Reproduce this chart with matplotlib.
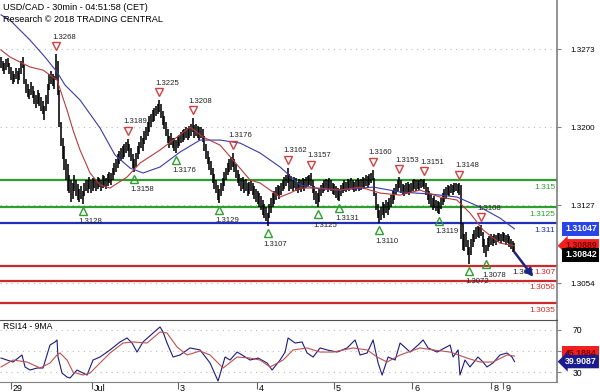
import numpy as np
import matplotlib
matplotlib.use('Agg')
import matplotlib.pyplot as plt
from matplotlib.transforms import offset_copy, blended_transform_factory

plt.rcParams['font.family'] = ['Liberation Sans', 'DejaVu Sans']

# 30 min bars, values in pips above 1.3000
bar_low = [255, 252, 250, 253, 256, 250, 244, 240, 242, 245, 240, 244, 250,
           255, 240, 232, 228, 226, 230, 227, 222, 218, 222, 220, 215, 212, 207,
           215, 222, 235, 240, 238, 236, 244, 230, 200, 182,
           170, 160, 150, 140, 138, 130, 133, 140, 135, 132, 130, 133, 128,
           135, 140, 138, 142, 138, 140, 143, 140, 142, 144, 140, 143, 145, 142, 145, 148, 146, 150, 155,
           158, 162, 165, 168, 170, 172, 176, 178, 172, 168, 162, 158,
           163, 170, 175, 180, 178, 184, 188, 192, 195, 200, 205, 206, 210, 212, 214,
           208, 202, 198, 192, 185, 180, 183, 180, 178, 176,
           180, 182, 185, 186, 188, 190, 188, 190, 192, 195, 190, 192, 190, 188, 190, 186,
           178, 170, 165, 160, 155, 148, 142, 138, 132, 129,
           135, 140, 145, 150, 155, 158, 160, 163,
           158, 152, 148, 145, 140, 142, 138, 140, 135, 137, 140, 136, 133, 130, 128, 125, 122, 118, 115, 112, 107,
           115, 120, 125, 128, 132, 135, 133, 136, 140, 142, 145, 148,
           140, 142, 140, 143, 140, 138, 141, 139, 142, 140, 143, 145, 146, 145,
           138, 132, 128, 125, 130, 135, 138, 140, 142, 139, 141, 140, 137, 136, 134, 132, 131,
           135, 138, 140, 139, 141, 140, 142, 141, 139, 140, 142, 140, 141, 143, 142, 145, 144, 146, 148, 150,
           135, 122, 115, 110, 113, 118, 115, 120, 118, 122, 125, 128, 132, 136, 140, 143,
           138, 136, 135, 137, 139, 136, 138, 140, 142, 140, 142, 141, 143, 144, 142,
           136, 132, 128, 125, 122, 124, 121, 120, 119, 123, 127, 130, 133, 136, 135, 138, 136, 139, 140, 138, 136,
           95, 85, 84, 88, 80, 72, 80, 88, 92, 95, 97, 96, 98,
           88, 82, 78, 84, 88, 90, 89, 91, 90, 92, 93, 91, 93, 92, 90, 91, 88, 86, 83, 83]
bar_high = [266, 262, 260, 264, 265, 260, 256, 252, 250, 255, 252, 255, 262,
            266, 258, 245, 240, 236, 242, 238, 234, 230, 235, 232, 228, 224, 220,
            230, 240, 250, 252, 250, 248, 268, 262, 235, 205,
            190, 182, 170, 165, 155, 150, 148, 155, 150, 147, 142, 145, 140,
            148, 150, 150, 153, 150, 152, 151, 150, 153, 152, 150, 155, 154, 152, 156, 158, 157, 162, 166,
            170, 175, 178, 180, 182, 184, 186, 189, 184, 180, 175, 170,
            176, 182, 186, 192, 190, 196, 200, 205, 210, 212, 216, 218, 220, 222, 225,
            222, 215, 210, 205, 198, 192, 194, 190, 190, 188,
            191, 193, 195, 197, 198, 200, 199, 201, 203, 208, 202, 203, 201, 200, 200, 198,
            192, 184, 178, 172, 168, 162, 156, 150, 146, 142,
            148, 152, 158, 162, 166, 170, 172, 176,
            170, 165, 160, 156, 152, 153, 150, 151, 148, 149, 150, 148, 145, 142, 140, 138, 135, 132, 128, 125, 120,
            128, 134, 138, 140, 144, 146, 145, 148, 150, 153, 155, 162,
            156, 154, 150, 153, 152, 149, 151, 150, 152, 151, 153, 154, 155, 157,
            150, 145, 140, 138, 142, 146, 148, 150, 151, 150, 152, 150, 148, 147, 145, 143, 142,
            146, 148, 150, 149, 151, 150, 152, 150, 149, 150, 152, 150, 151, 153, 152, 155, 154, 156, 157, 160,
            152, 138, 128, 122, 125, 130, 128, 132, 130, 134, 136, 140, 143, 147, 150, 153,
            150, 147, 146, 148, 149, 147, 148, 150, 151, 150, 150, 150, 151, 150, 151,
            148, 144, 140, 137, 134, 135, 132, 131, 130, 134, 138, 142, 144, 146, 145, 147, 146, 148, 148, 147, 148,
            146, 110, 100, 102, 94, 88, 95, 100, 104, 106, 107, 106, 108,
            102, 95, 90, 96, 98, 100, 98, 100, 99, 101, 101, 100, 102, 101, 99, 100, 98, 95, 93, 91]

# moving averages (bar index, pips)
ma_slow_idx = [0, 5.4, 17.4, 26.4, 33.6, 38.4, 47.4, 59.4, 68.4, 77.4, 85.2, 95.4, 107.4, 119.4, 131.4,
               143.4, 155.4, 167.4, 179.4, 191.4, 203.4, 223.2, 239.4, 257.4, 273.5, 287.3, 299.3, 308]
ma_slow_val = [305, 300.1, 281.4, 265.5, 251.5, 239.3, 225.3, 199.1, 173.8, 161.6, 157, 162.6, 176.6, 187.8, 187.8,
               185, 175.7, 162.6, 145.7, 142, 141, 143.8, 139.2, 137.3, 134.5, 125.1, 114.8, 104.7]
ma_fast_idx = [0, 5.4, 17.4, 25.2, 33.6, 39.6, 43.2, 47.4, 53.4, 59.4, 65.4, 75.6, 83.4, 95.4, 105.6, 113.4,
               121.2, 131.4, 139.2, 149.4, 155.4, 167.4, 173.4, 179.4, 191.4, 203.4, 215.4, 227.4, 239.4,
               251.3, 263.3, 273.5, 281.3, 289.2, 299.3, 308]
ma_fast_val = [272.1, 265.5, 256.2, 253.3, 244, 215.9, 197.2, 178.5, 157, 145.7, 142.9, 153.2, 166.3, 178.5,
               190.6, 200, 190.6, 183.1, 169.1, 150.4, 147.6, 134.5, 138.2, 142.9, 142.9, 141, 143.8, 138.2,
               136.3, 141, 134.5, 131.7, 119.5, 103.6, 91.4, 88.9]

# RSI14 and its 9MA (bar index, value)
rsi_idx = [0, 3.6, 7.2, 12.6, 14.4, 17.4, 21.6, 25.2, 29.4, 32.4, 33.6, 34.2, 36.6, 39.6, 41.4, 45.6, 51.6,
           55.2, 59.4, 65.4, 71.4, 75.6, 78.6, 81.6, 85.2, 91.2, 95.4, 97.2, 99.6, 103.2, 107.4, 113.4, 119.4,
           125.4, 130.2, 134.4, 137.4, 141.6, 144.6, 149.4, 154.2, 159.6, 162.6, 167.4, 170.4, 172.2, 176.4,
           180.6, 183.6, 187.2, 191.4, 195.6, 201.6, 207.6, 212.4, 215.4, 219.6, 223.2, 226.2, 228.6, 232.2,
           236.4, 239.4, 245.4, 250.2, 253.2, 256.2, 261.6, 269.4, 271.2, 274.2, 275.3, 278.3, 281.3, 286.1,
           289.1, 291.5, 295.1, 299.3, 303.5, 306.5, 308]
rsi_val = [43.3, 41.4, 39.5, 46.2, 34.8, 31.9, 33.8, 33.8, 55.7, 58.6, 60.5, 44.3, 29, 25.2, 24.3, 31.9, 27.1,
           41.4, 44.3, 51, 58.6, 62.4, 57.6, 49, 58.6, 67.1, 72.9, 68.1, 57.6, 44.3, 46.2, 52.9, 51,
           38.6, 21.4, 44.3, 41.4, 49, 46.2, 41.4, 43.3, 38.6, 31.9, 41.4, 49, 62.4, 57.6,
           58.6, 48.1, 44.3, 52.9, 51, 49, 52.9, 60.5, 46.2, 48.1, 60.5, 38.6, 27.1, 44.3,
           41.4, 57.6, 49, 55.7, 60.5, 52.9, 49, 55.7, 44.3, 51, 27.1, 41.4, 34.8, 44.3,
           39.5, 34.8, 38.6, 46.2, 48.1, 44.3, 39.9087]
rsi_ma_idx = [0, 7.2, 15.6, 23.4, 29.4, 33.6, 35.4, 39.6, 43.2, 49.2, 53.4, 59.4, 65.4, 73.2, 79.2, 87.6, 95.4,
              99.6, 105.6, 111.6, 119.4, 125.4, 133.2, 141.6, 149.4, 155.4, 161.4, 169.2, 175.2, 183.6, 191.4,
              199.2, 211.2, 219.6, 225.6, 231.6, 239.4, 251.3, 259.2, 269.4, 279.5, 287.3, 295.1, 303.5, 308]
rsi_ma_val = [34.8, 41.4, 39.5, 33.8, 38.6, 46.2, 48.1, 41.4, 30, 27.1, 29, 38.6, 48.1, 57.6, 58.6, 57.6, 68.1,
              67.1, 53.8, 46.2, 50, 46.2, 33.8, 44.3, 43.3, 41.4, 34.8, 41.4, 51, 52.9, 49,
              49, 52.9, 51, 44.3, 39.5, 46.2, 52.9, 51, 49, 43.3, 39.5, 39.5, 46.2, 45.1884]

# pivots
peak_idx = [33, 76, 95, 115, 139, 172, 186, 223, 239, 254, 275, 288]
peak_val = [1.3268, 1.3189, 1.3225, 1.3208, 1.3176, 1.3162, 1.3157, 1.3160, 1.3153, 1.3151, 1.3148, 1.3108]
trough_idx = [49, 80, 105, 131, 160, 190, 203, 227, 263, 281, 291]
trough_val = [1.3128, 1.3158, 1.3176, 1.3129, 1.3107, 1.3125, 1.3131, 1.3110, 1.3119, 1.3072, 1.3078]

# support / resistance levels
level_val = [1.3150, 1.3125, 1.3110, 1.3070, 1.3056, 1.3035]
level_txt = ['1.315', '1.3125', '1.311', '1.307', '1.3056', '1.3035']
level_col = ['#2e9e2e', '#2e9e2e', '#1f2fb8', '#cc2a2a', '#cc2a2a', '#cc2a2a']

price_ticks = [1.3054, 1.3127, 1.3200, 1.3273]
day_idx = [6.0, 54.6, 106.2, 153.6, 199.8, 246.6, 294.0, 301.2]
day_lbl = ['29', 'Jul', '3', '4', '5', '6', '8', '9']

last_close = 1.30842
target_lbl = '1.307'
arrow_from = (307, 1.30849)
arrow_to = (320.3, 1.30577)

x = np.arange(len(bar_low))
lo = 1.3 + np.array(bar_low) / 10000.0
hi = 1.3 + np.array(bar_high) / 10000.0

fig = plt.figure(figsize=(6, 3.92), dpi=100)
ax = fig.add_axes([0, 1 - 320 / 392., 557 / 600., 320 / 392.])
ax2 = fig.add_axes([0, 10 / 392., 557 / 600., 62 / 392.])

ax.set_xlim(-0.6, 333.5)
ax.set_ylim(1.30194, 1.33189)
ax2.set_xlim(-0.6, 333.5)
ax2.set_ylim(20.5, 79.5)

dots = (0, (1, 4))
ax.grid(axis='y', color='#bbbbbb', linestyle=dots, lw=0.8)
ax2.grid(axis='y', color='#bbbbbb', linestyle=dots, lw=0.8)

for v, c in zip(level_val, level_col):
    ax.axhline(v, color=c, lw=1.6, zorder=2)

ax.vlines(x, lo, hi, color='black', lw=1.15, zorder=3)
ax.plot(ma_slow_idx, 1.3 + np.array(ma_slow_val) / 10000.0, color='#3a3aa8', lw=0.8, zorder=4)
ax.plot(ma_fast_idx, 1.3 + np.array(ma_fast_val) / 10000.0, color='#b83a3a', lw=0.8, zorder=4)

up = offset_copy(ax.transData, fig=fig, x=0, y=8, units='dots')
dn = offset_copy(ax.transData, fig=fig, x=0, y=-7, units='dots')
ax.plot(peak_idx, peak_val, 'v', transform=up, ms=6, mfc='none', mec='#d04040', mew=1, zorder=5)
ax.plot(trough_idx, trough_val, '^', transform=dn, ms=6, mfc='none', mec='#2f9f2f', mew=1, zorder=5)
for i, v in zip(peak_idx, peak_val):
    ax.annotate('%.4f' % v, (i, v), xytext=(-4, 17), textcoords='offset pixels',
                ha='left', va='center', fontsize=5.6, color='#222222', zorder=6)
for i, v in zip(trough_idx, trough_val):
    ax.annotate('%.4f' % v, (i, v), xytext=(-4, -18), textcoords='offset pixels',
                ha='left', va='center', fontsize=5.6, color='#222222', zorder=6)

trans = blended_transform_factory(ax.transAxes, ax.transData)
for v, t, c in zip(level_val, level_txt, level_col):
    ax.annotate(t, (0.997, v), xycoords=trans, xytext=(0, -7), textcoords='offset pixels',
                ha='right', va='center', fontsize=6, color=c, zorder=6)

ax.text(arrow_from[0] - 0.5, 1.30643, target_lbl, fontsize=6, color='#222222', ha='left', va='center', zorder=6)
ax.annotate('', xy=arrow_to, xytext=arrow_from,
            arrowprops=dict(arrowstyle='-|>', color='#1c2480', lw=1.8, mutation_scale=11), zorder=7)

ax.yaxis.tick_right()
ax.set_yticks(price_ticks)
ax.set_yticklabels(['%.4f' % t for t in price_ticks])
ax.tick_params(axis='y', length=3, color='#808080', labelsize=5.8, pad=7)
ax.set_xticks([])
for s in ['left', 'top', 'bottom']:
    ax.spines[s].set_visible(False)
ax.spines['right'].set_color('#808080')
ax.spines['right'].set_linewidth(1.2)

ax2.plot(rsi_idx, rsi_val, color='#1b1b80', lw=0.8)
ax2.plot(rsi_ma_idx, rsi_ma_val, color='#c05050', lw=0.8)
ax2.yaxis.tick_right()
ax2.set_yticks([30, 50, 70])
ax2.set_yticklabels(['30', '', '70'])
ax2.tick_params(axis='y', length=3, color='#808080', labelsize=6.2, pad=8)
ax2.set_xticks(day_idx)
ax2.set_xticklabels([])
ax2.tick_params(axis='x', length=5, color='#606060', direction='out')
for i, t in zip(day_idx, day_lbl):
    ax2.annotate(t, (i, 0), xycoords=('data', 'axes fraction'), xytext=(2, -2),
                 textcoords='offset pixels', ha='left', va='top', fontsize=6.5, annotation_clip=False)
ax2.spines['left'].set_visible(False)
ax2.spines['top'].set_color('#505050')
ax2.spines['bottom'].set_color('#808080')
ax2.spines['right'].set_color('#808080')
ax2.spines['right'].set_linewidth(1.2)
ax2.text(0.005, 0.9, 'RSI14 - 9MA', transform=ax2.transAxes, fontsize=6.2, va='center')

# value boxes on the right scale
def box(a, txt, v, fc, tc, dy=0, style='square,pad=0.3'):
    a.annotate(txt, (1, v), xycoords=blended_transform_factory(a.transAxes, a.transData),
               xytext=(8, dy), textcoords='offset pixels', ha='left', va='center',
               fontsize=6.3, color=tc, fontweight='bold', annotation_clip=False, zorder=10,
               bbox=dict(boxstyle=style, fc=fc, ec='none'))

box(ax, '1.31047', ma_slow_val[-1] / 10000.0 + 1.3, '#2846e8', 'white')
box(ax, '1.30889', ma_fast_val[-1] / 10000.0 + 1.3, '#f02020', '#7a0000', style='larrow,pad=0.25')
box(ax, '1.30842', last_close, 'black', 'white', dy=-4)
box(ax2, '45.1884', rsi_ma_val[-1], '#f02020', '#7a0000', dy=3)
box(ax2, '39.9087', rsi_val[-1], '#1b1b90', 'white', style='larrow,pad=0.25')

fig.text(0.005, 1 - 8 / 392., 'USD/CAD - 30min - 04:51:58 (CET)', fontsize=6.6, va='center')
fig.text(0.005, 1 - 19 / 392., 'Research \u00a9 2018 TRADING CENTRAL', fontsize=6.6, va='center')

fig.savefig('out.png', dpi=100)
